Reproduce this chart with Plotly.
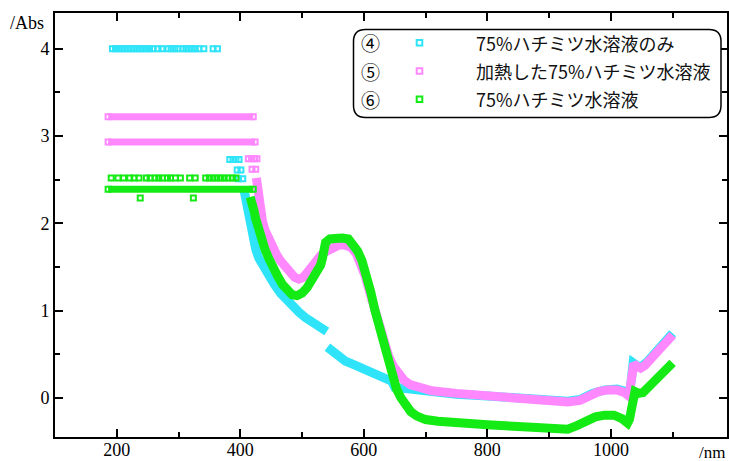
import plotly.graph_objects as go

# ---------------- data ----------------
# Series 4 : 75%ハチミツ水溶液のみ (cyan)
cyan_nm = [405, 408, 411, 414, 417, 420, 425, 430, 437, 445, 455, 465, 475, 485, 495,
           505, 515, 525, 535, 540, None,
           541, 550, 560, 570, 580, 590, 600, 610, 620, 630, 640, 645, 650, 670, 700,
           750, 800, 850, 900, 930, 950, 970, 990, 1010, 1025, 1030, 1033, 1036, 1042,
           1048, 1060, 1075, 1090, 1100]
cyan_abs = [2.42, 2.30, 2.15, 2.00, 1.90, 1.82, 1.70, 1.60, 1.50, 1.40, 1.30, 1.20, 1.12, 1.05, 0.98,
            0.92, 0.87, 0.82, 0.78, 0.76, None,
            0.58, 0.52, 0.47, 0.42, 0.39, 0.36, 0.33, 0.30, 0.27, 0.24, 0.21, 0.19, 0.12, 0.10, 0.07,
            0.04, 0.02, 0.00, -0.03, -0.04, -0.02, 0.05, 0.09, 0.10, 0.07, 0.05, 0.20, 0.40, 0.37,
            0.35, 0.42, 0.53, 0.64, 0.74]
cyan_pts_nm = [193, 198, 203, 208, 213, 218, 223, 228, 233, 238, 243, 248, 253, 258,
               267, 273, 283, 288, 294, 299, 307, 312, 317, 322, 327, 333, 341, 356, 363,
               383, 388, 393, 398, 395, 401, 397, 404]
cyan_pts_abs = [4.0, 4.0, 4.0, 4.0, 4.0, 4.0, 4.0, 4.0, 4.0, 4.0, 4.0, 4.0, 4.0, 4.0,
                4.0, 4.0, 4.0, 4.0, 4.0, 4.0, 4.0, 4.0, 4.0, 4.0, 4.0, 4.0, 4.0, 4.0, 4.0,
                2.73, 2.73, 2.73, 2.73, 2.61, 2.61, 2.51, 2.51]

# Series 5 : 加熱した75%ハチミツ水溶液 (pink)
pink_band_hi_nm = [186, 421]
pink_band_hi_abs = [3.22, 3.22]
pink_band_lo_nm = [186, 424]
pink_band_lo_abs = [2.93, 2.93]
pink_pts_nm = [413, 418, 423, 427, 419, 425]
pink_pts_abs = [2.74, 2.74, 2.74, 2.74, 2.62, 2.62]
pink_nm = [426, 428, 430, 433, 436, 440, 445, 450, 458, 465, 472, 480, 488, 495, 502,
           510, 520, 530, 540, 550, 560, 570, 580, 588, 595, 602, 610, 618, 625, 632,
           640, 648, 656, 665, 675, 690, 710, 750, 800, 850, 900, 930, 950, 965, 980,
           995, 1010, 1022, 1029, 1031, 1033, 1035, 1037, 1042, 1048, 1055, 1065, 1075,
           1085, 1095, 1100]
pink_abs = [2.52, 2.40, 2.30, 2.15, 2.02, 1.92, 1.83, 1.75, 1.65, 1.57, 1.50, 1.43, 1.38, 1.36, 1.38,
            1.45, 1.55, 1.63, 1.68, 1.72, 1.75, 1.75, 1.72, 1.65, 1.55, 1.40, 1.20, 1.00, 0.82, 0.64,
            0.48, 0.36, 0.27, 0.20, 0.15, 0.11, 0.08, 0.05, 0.02, 0.00, -0.03, -0.05, -0.03, 0.02, 0.07,
            0.09, 0.09, 0.06, 0.02, 0.10, 0.20, 0.30, 0.39, 0.36, 0.34, 0.37, 0.44, 0.51,
            0.59, 0.67, 0.72]

# Series 6 : 75%ハチミツ水溶液 (green)
green_band_nm = [186, 421]
green_band_abs = [2.39, 2.39]
green_pts_nm = [191, 202, 211, 221, 228, 236, 248, 254, 262, 268, 274, 282, 287, 295, 303,
                318, 327, 344, 350, 356, 362, 368, 374, 380, 387, 393, 238, 324]
green_pts_abs = [2.52, 2.52, 2.52, 2.52, 2.52, 2.52, 2.52, 2.52, 2.52, 2.52, 2.52, 2.52, 2.52, 2.52, 2.52,
                 2.52, 2.52, 2.52, 2.52, 2.52, 2.52, 2.52, 2.52, 2.52, 2.52, 2.52, 2.29, 2.29]
green_nm = [416, 419, 422, 425, 428, 431, 435, 440, 446, 452, 460, 468, 476, 484, 492,
            500, 508, 516, 524, 530, 533, 535, 538, 545, 555, 565, 575, 583, 590, 597,
            604, 611, 618, 625, 632, 639, 646, 653, 660, 668, 676, 686, 700, 720, 750,
            800, 850, 900, 930, 945, 960, 975, 990, 1005, 1018, 1027, 1030, 1032, 1034,
            1036, 1039, 1045, 1052, 1062, 1072, 1082, 1092, 1100]
green_abs = [2.30, 2.25, 2.15, 2.05, 1.97, 1.88, 1.80, 1.70, 1.60, 1.50, 1.40, 1.30, 1.22, 1.18, 1.17,
             1.20, 1.26, 1.35, 1.45, 1.52, 1.60, 1.70, 1.78, 1.82, 1.83, 1.83, 1.82, 1.76, 1.68, 1.57,
             1.42, 1.22, 1.00, 0.80, 0.60, 0.42, 0.25, 0.10, 0.00, -0.09, -0.16, -0.21, -0.25, -0.27, -0.29,
             -0.31, -0.33, -0.35, -0.36, -0.32, -0.26, -0.22, -0.20, -0.20, -0.24, -0.29, -0.25, -0.15, -0.05,
             0.03, 0.07, 0.05, 0.06, 0.13, 0.20, 0.27, 0.34, 0.40]

legend_nums = ["④", "⑤", "⑥"]
legend_names = ["75%ハチミツ水溶液のみ", "加熱した75%ハチミツ水溶液", "75%ハチミツ水溶液"]

x_ticks = [200, 400, 600, 800, 1000]
y_ticks = [0, 1, 2, 3, 4]

# ---------------- styling ----------------
CYAN = "#2FE4F8"
PINK = "#FF88FF"
GREEN = "#14EA14"
colors = [CYAN, PINK, GREEN]
SERIF = "Liberation Serif, Times New Roman, serif"
JP = "Noto Sans CJK JP"

W, H = 729, 461
ML, MR, MT, MB = 55, 2, 13, 24
PW, PH = W - ML - MR, H - MT - MB


def px2paper(px, py):
    return (px - ML) / PW, (H - MB - py) / PH


fig = go.Figure()

mk = lambda c: dict(symbol="square-open", size=5, color=c, line=dict(width=2, color=c))


def curve(x, y, c, w=9):
    fig.add_trace(go.Scatter(x=x, y=y, mode="lines", line=dict(color=c, width=w),
                             showlegend=False, hoverinfo="skip"))


def band(x, y, c):
    fig.add_trace(go.Scatter(x=x, y=y, mode="lines+markers", line=dict(color=c, width=7),
                             marker=mk(c), showlegend=False, hoverinfo="skip"))


def pts(x, y, c):
    fig.add_trace(go.Scatter(x=x, y=y, mode="markers", marker=mk(c),
                             showlegend=False, hoverinfo="skip"))


# cyan
pts(cyan_pts_nm, cyan_pts_abs, CYAN)
curve(cyan_nm, cyan_abs, CYAN)
# pink
band(pink_band_hi_nm, pink_band_hi_abs, PINK)
band(pink_band_lo_nm, pink_band_lo_abs, PINK)
pts(pink_pts_nm, pink_pts_abs, PINK)
curve(pink_nm, pink_abs, PINK)
# green
band(green_band_nm, green_band_abs, GREEN)
pts(green_pts_nm, green_pts_abs, GREEN)
curve(green_nm, green_abs, GREEN)

axis_common = dict(showline=True, linecolor="black", linewidth=2, mirror="allticks",
                   ticks="inside", ticklen=8, tickwidth=2, tickcolor="black",
                   showgrid=False, zeroline=False, automargin=False,
                   tickfont=dict(family=SERIF, size=18, color="black"))

fig.update_xaxes(range=[100, 1188], tickvals=x_ticks, ticktext=[str(v) for v in x_ticks],
                 ticklabelstandoff=-5,
                 minor=dict(dtick=100, tick0=0, ticks="inside", ticklen=5, tickwidth=2,
                            tickcolor="black", showgrid=False),
                 **axis_common)
fig.update_yaxes(range=[-0.45, 4.41], tickvals=y_ticks, ticktext=[str(v) for v in y_ticks],
                 minor=dict(dtick=0.5, tick0=0, ticks="inside", ticklen=5, tickwidth=2,
                            tickcolor="black", showgrid=False),
                 **axis_common)

# ---- custom legend box ----
x0, y1 = px2paper(353.5, 29.5)
x1, y0 = px2paper(721, 117.5)
rx, ry = 12 / PW, 12 / PH
path = (f"M {x0+rx},{y1} L {x1-rx},{y1} Q {x1},{y1} {x1},{y1-ry} "
        f"L {x1},{y0+ry} Q {x1},{y0} {x1-rx},{y0} L {x0+rx},{y0} Q {x0},{y0} {x0},{y0+ry} "
        f"L {x0},{y1-ry} Q {x0},{y1} {x0+rx},{y1} Z")
shapes = [dict(type="path", path=path, xref="paper", yref="paper",
               line=dict(color="black", width=1.5), fillcolor="white", layer="above")]
annotations = []
rows_py = [42.7, 71.0, 99.3]
for i, py in enumerate(rows_py):
    nx, ny = px2paper(370, py)
    annotations.append(dict(x=nx, y=ny, xref="paper", yref="paper", text=legend_nums[i],
                            showarrow=False, xanchor="center", yanchor="middle",
                            font=dict(family=JP, size=19, color="black")))
    mx, my = px2paper(419.5, py)
    dx, dy = 2.8 / PW, 2.8 / PH
    shapes.append(dict(type="rect", xref="paper", yref="paper", x0=mx - dx, x1=mx + dx,
                       y0=my - dy, y1=my + dy, line=dict(color=colors[i], width=2),
                       fillcolor="rgba(0,0,0,0)", layer="above"))
    tx, ty = px2paper(474, py)
    annotations.append(dict(x=tx, y=ty, xref="paper", yref="paper", text=legend_names[i],
                            showarrow=False, xanchor="left", yanchor="middle",
                            font=dict(family=JP, size=18, color="#111111")))

# axis unit labels
ax, ay = px2paper(27, 23)
annotations.append(dict(x=ax, y=ay, xref="paper", yref="paper", text="/Abs", showarrow=False,
                        xanchor="center", yanchor="middle",
                        font=dict(family=SERIF, size=18, color="black")))
bx, by = px2paper(727, 452)
annotations.append(dict(x=bx, y=by, xref="paper", yref="paper", text="/nm", showarrow=False,
                        xanchor="right", yanchor="middle",
                        font=dict(family=SERIF, size=17, color="black")))

fig.update_layout(width=W, height=H, margin=dict(l=ML, r=MR, t=MT, b=MB, autoexpand=False),
                  paper_bgcolor="white", plot_bgcolor="white",
                  shapes=shapes, annotations=annotations, showlegend=False)

fig.write_html("out.html", config={"displayModeBar": False, "staticPlot": True},
               post_script="document.body.style.margin='0';document.body.style.overflow='hidden';")
